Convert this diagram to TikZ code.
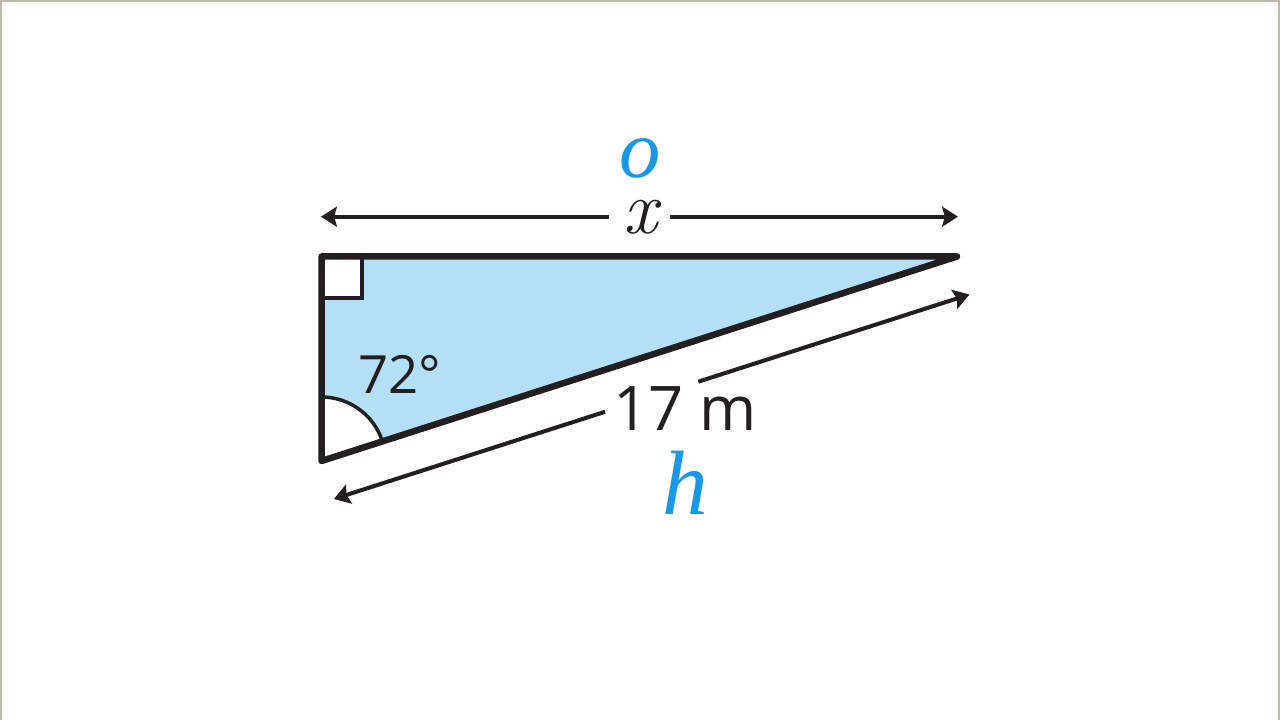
\documentclass[tikz,border=0pt]{standalone}
\usepackage{fontspec}
\newfontfamily\labelsans{Open Sans}
\newfontfamily\labelserif{Liberation Serif}
\usetikzlibrary{arrows.meta}
\definecolor{triblue}{RGB}{179,223,247}
\definecolor{labelblue}{RGB}{26,152,232}
\definecolor{inkblack}{RGB}{35,31,32}
\definecolor{framegray}{RGB}{190,186,178}
\begin{document}
\begin{tikzpicture}[x=0.02cm,y=0.02cm,
  >={Stealth[length=9pt,width=11.3pt,inset=1.5pt]},
  dim/.style={draw=inkblack,line width=2.3pt},
  side/.style={draw=inkblack,line width=3.7pt,line join=round},
  letter/.style={text=labelblue,inner sep=0pt}]
\useasboundingbox (0,0) rectangle (1280,720);
\fill[white] (0,0) rectangle (1280,720);
\draw[framegray,line width=1.4pt] (1,0)--(1,719)--(1279,719)--(1279,0);
% triangle corners
\coordinate (a) at (321.5,463.5);
\coordinate (b) at (957,463.5);
\coordinate (c) at (321.5,259);
\fill[triblue] (a)--(b)--(c)--cycle;
\filldraw[fill=white,draw=inkblack,line width=2.3pt] (a) rectangle (362,422);
\filldraw[fill=white,draw=inkblack,line width=2pt] (c)--(321.5,323) arc[start angle=90,end angle=18,radius=1.28cm]--cycle;
\draw[side] (a)--(b)--(c)--cycle;
% top dimension
\coordinate (t1) at (321,503.3);
\coordinate (t2) at (609,503.3);
\coordinate (t3) at (670,503.3);
\coordinate (t4) at (958,503.3);
\draw[dim,<-] (t1)--(t2);
\draw[dim,->] (t3)--(t4);
% hypotenuse dimension
\coordinate (h1) at (333.9,221);
\coordinate (h2) at (605,308.2);
\coordinate (h3) at (698.3,338.3);
\coordinate (h4) at (969.4,425.5);
\draw[dim,<-] (h1)--(h2);
\draw[dim,->] (h3)--(h4);
% labels
\node[letter,name=opp,font=\labelserif\itshape\fontsize{47}{47}\selectfont] at (640,562){o};
\node[text=inkblack,inner sep=0pt,name=xlen,font=\itshape\fontsize{43}{43}\selectfont] at (640,503){x};
\node[text=inkblack,inner sep=0pt,name=hyplen,font=\labelsans\fontsize{35}{35}\selectfont] at (685,311){17 m};
\node[letter,name=hyp,font=\labelserif\itshape\fontsize{52}{52}\selectfont] at (685,237){h};
\node[text=inkblack,inner sep=0pt,name=ang,font=\labelsans\fontsize{30}{30}\selectfont] at (399.5,346){72°};
\end{tikzpicture}
\end{document}
